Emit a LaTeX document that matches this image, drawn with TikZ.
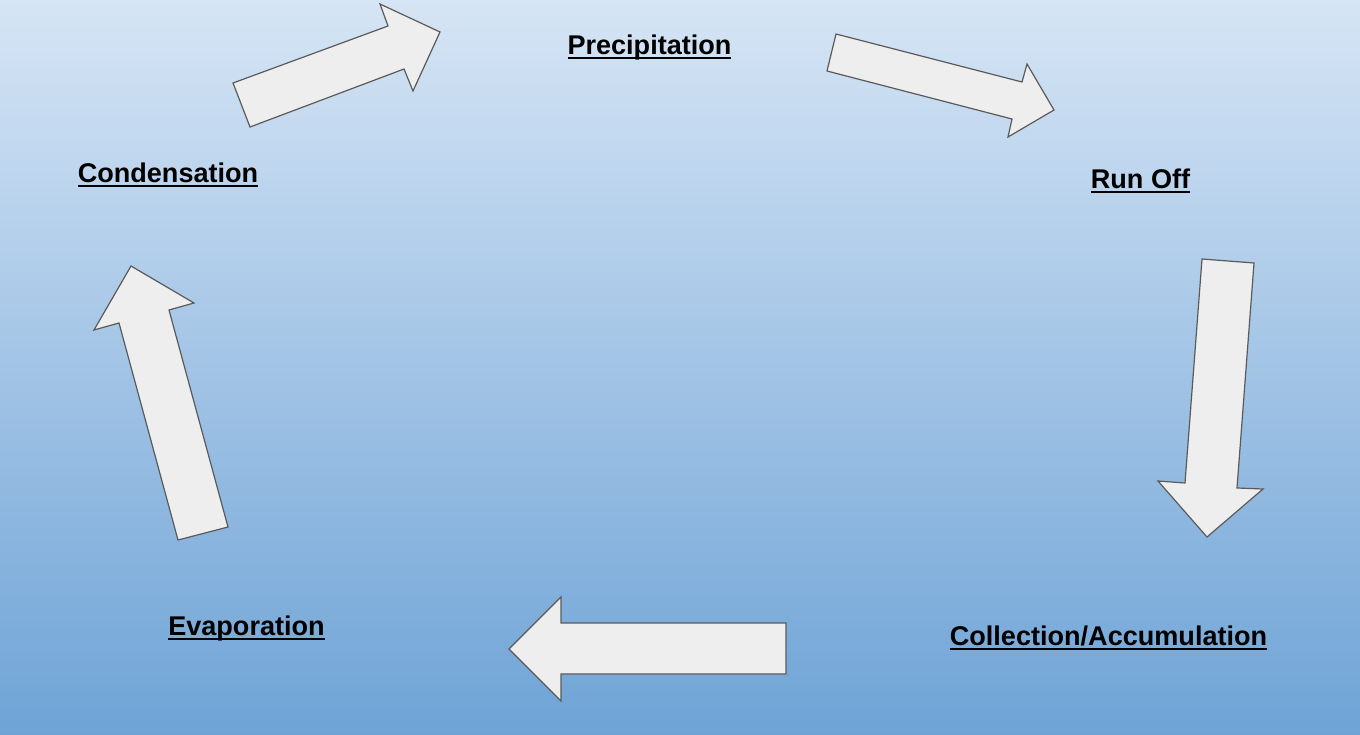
\documentclass[tikz,border=0pt]{standalone}
\usepackage{fontspec}
\setmainfont{Liberation Sans}
\definecolor{bgtop}{RGB}{214,229,245}
\definecolor{bgbot}{RGB}{110,163,214}
\definecolor{arrowfill}{RGB}{238,238,238}
\definecolor{arrowline}{RGB}{90,90,90}
\newcommand\myul[1]{\setbox0=\hbox{#1}\rlap{\rule[-3.5pt]{\wd0}{1.6pt}}\box0}
\tikzset{
  blockarrow/.style={fill=arrowfill, draw=arrowline, line width=0.9pt, line join=miter},
  stagelabel/.style={anchor=base, inner sep=0pt, font=\fontsize{20.3}{24}\selectfont\bfseries, text=black},
}
\begin{document}
\begin{tikzpicture}[x=0.75pt, y=-0.75pt]
\useasboundingbox (0,0) rectangle (1360,735);
\shade[top color=bgtop, bottom color=bgbot] (0,0) rectangle (1360,735);

% labels
\node[stagelabel] (prec) at (649.5,54.5) {\myul{Precipitation}};
\node[stagelabel] (cond) at (168,182) {\myul{Condensation}};
\node[stagelabel] (run) at (1140.5,188) {\myul{Run Off}};
\node[stagelabel] (coll) at (1108.5,645) {\myul{Collection/Accumulation}};
\node[stagelabel] (evap) at (246.5,635.5) {\myul{Evaporation}};

% block arrows
\draw[blockarrow] (250,127) -- (233,83) -- (388,26) -- (380,4) -- (440,32) -- (413,91) -- (404,69) -- cycle;
\draw[blockarrow] (836,34) -- (1022,82) -- (1027,64) -- (1054,110) -- (1008,137) -- (1012,119) -- (827,71) -- cycle;
\draw[blockarrow] (1202,259) -- (1254,263) -- (1237,488) -- (1263,489) -- (1207,537) -- (1158,481) -- (1185,483) -- cycle;
\draw[blockarrow] (786,623) -- (786,674) -- (561,674) -- (561,701) -- (509,649) -- (561,597) -- (561,623) -- cycle;
\draw[blockarrow] (228,527) -- (178,540) -- (119,323) -- (94,330) -- (131,266) -- (194,303) -- (169,310) -- cycle;
\end{tikzpicture}
\end{document}
